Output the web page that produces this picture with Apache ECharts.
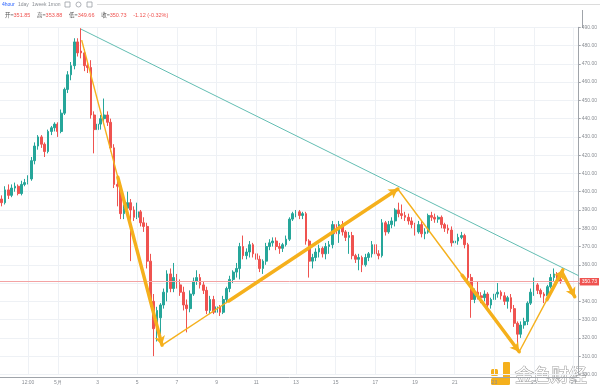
<!DOCTYPE html>
<html>
<head>
<meta charset="utf-8">
<script src="https://cdn.jsdelivr.net/npm/echarts@6/dist/echarts.min.js"></script>
<style>html,body{margin:0;padding:0;background:#fff}#c{width:600px;height:388px}</style>
</head>
<body>
<div id="c"></div>
<script>
// ---- data ----
// 4-hour candles: [open, close, low, high]
const candles = [
[396,394,392,398],[394,401,393,403],[401,398,396,404],[398,402,397,404],[402,403,400,405],
[403,399,398,404],[399,404,398,406],[404,405,403,407],[405,407,404,409],[407,417,406,419],
[417,425,415,427],[425,430,423,431],[430,426,424,431],[426,422,419,427],[422,433,421,434],
[433,435,431,436],[435,437,433,438],[437,433,430,438],[433,443,432,445],[443,456,442,457],
[456,464,454,466],[464,469,461,471],[469,482,467,484],[482,476,474,484],[477,476,473,489.5],
[476,469,466,478],[469,468,465,471],[468,442,440,472],[442,434,421,444],[434,437,425,438],
[437,440,434,442],[440,442,437,451],[442,438,436,444],[438,424,422,440],[424,404,402,426],
[404,403,392,406],[403,388,385,405],[388,391,385,393],[391,394,388,400],[394,390,362,396],
[390,386,384,392],[386,389,385,394],[389,383,381,390],[383,381,378,386],[381,362,358,383],
[362,340,337,366],[340,325,310,344],[325,335,318,337],[331,338,322,339],[338,345,336,347],
[345,355,340,357],[355,347,345,358],[347,353,345,361],[353,349,347,355],[349,345,343,352],
[345,338,335,348],[338,336,323,341],[336,344,334,346],[344,351,343,353],[351,353,349,357],
[353,349,347,355],[349,346,344,351],[346,335,333,348],[335,341,333,343],[341,334,333,343],
[334,337,326,339],[337,334,332,338],[334,341,333,343],[341,347,339,348],[347,352,345,354],
[352,356,350,357],[356,358,353,361],[358,370,352,372],[370,365,363,376],[365,367,363,369],
[367,371,364,373],[371,366,364,372],[366,363,361,368],[363,358,356,365],[358,362,355,363],
[362,370,360,372],[370,372,368,374],[372,373,370,375],[373,370,368,375],[370,369,366,372],
[369,371,367,372],[371,374,370,376],[374,385,373,386],[385,388,384,389],[388,389,386,390],
[389,387,385,390],[387,388,385,389],[388,373,371,389],[373,362,353,374],[362,364,358,366],
[364,367,362,369],[367,369,364,371],[369,366,364,370],[366,370,363,372],[370,371,366,373],
[371,382,369,384],[382,377,375,384],[377,382,372,384],[382,378,376,384],[378,375,373,379],
[375,376,366,378],[376,365,363,378],[365,363,361,366],[363,364,357,366],[364,360,356,365],
[360,364,359,366],[364,366,362,367],[366,371,364,373],[371,366,364,372],[366,365,363,368],
[365,383,364,385],[383,378,376,384],[378,382,377,384],[382,384,380,386],[384,390,381,391],
[390,388,386,394],[388,387,385,393],[387,386,384,389],[386,384,382,388],[384,382,380,386],
[382,378,376,383],[378,382,377,384],[382,377,375,384],[377,378,374,380],[378,387,377,388],
[387,386,384,389],[386,385,383,388],[385,386,383,387],[386,382,380,387],[382,380,378,383],
[380,379,377,382],[379,372,370,381],[372,373,364,380],[373,375,371,377],[375,376,374,378],
[376,371,369,377],[371,353,351,372],[353,341,331,355],[341,345,339,347],[345,343,341,351],
[343,342,339,345],[342,344,340,346],[344,338,336,345],[338,341,336,342],[341,344,339,345],
[344,345,342,350],[345,343,341,346],[343,340,338,345],[340,342,336,343],[342,336,334,344],
[336,328,326,338],[328,322,317,329],[322,327,320,329],[327,329,325,331],[329,339,327,340],
[339,345,338,347],[345,349,343,353],[349,346,344,350],[346,344,342,347],[344,343,339,345],
[343,348,342,349],[348,353,347,355],[353,355,351,358],[355,351.85,350,356],[351.85,350.73,349.66,353.88]
];
const lastOHLC = {open:'351.85', high:'353.88', low:'349.66', close:'350.73', chg:'-1.12', pct:'-0.32%'};
const lastPrice = 350.73;

// tick labels of the time axis
const tickCats  = ['4/29 12:00','5/1 00:00','5/3 00:00','5/5 00:00','5/7 00:00','5/9 00:00','5/11 00:00','5/13 00:00','5/15 00:00','5/17 00:00','5/19 00:00','5/21 00:00','5/23 00:00','5/25 00:00','5/27 00:00'];
const tickTexts = ['12:00','5月','3','5','7','9','11','13','15','17','19','21','23','25','27'];

// drawings (in [candle index, price])
const trendLine = [[24, 489], [174.5, 354]];
const arrowLegs = [
  [[24.2, 483], [48.5, 316]],
  [[48.5, 316], [119.8, 401.5]],
  [[119.8, 401.5], [156.5, 312.4]],
  [[156.5, 312.4], [169.7, 357.2]],
  [[169.4, 356], [173.3, 342.5]]
];
const thinFraction = [0.45, 0.283, 0.53, 0.636, 0];

// ---- categories (4h slots) ----
const totalSlots = 175;
const categories = [];
const t0 = Date.UTC(2018, 3, 28, 4);
for (let i = 0; i < totalSlots; i++) {
  const d = new Date(t0 + i * 4 * 3600e3);
  categories.push((d.getUTCMonth() + 1) + '/' + d.getUTCDate() + ' ' + String(d.getUTCHours()).padStart(2, '0') + ':00');
}
const tickMap = {};
tickCats.forEach((c, i) => tickMap[c] = tickTexts[i]);
const isTick = (idx, val) => tickMap[val] !== undefined;
const tickIdx = tickCats.map(c => categories.indexOf(c));

const GREEN = '#26a69a', RED = '#ef5350', GOLD = '#f5b01c';

const thinSegs = [], thickSegs = [];
arrowLegs.forEach((leg, i) => {
  const [a, b] = leg, f = thinFraction[i];
  const m = [a[0] + (b[0] - a[0]) * f, a[1] + (b[1] - a[1]) * f];
  if (f > 0) thinSegs.push([{coord: a}, {coord: m}]);
  thickSegs.push([{coord: m}, {coord: b}]);
});

const chart = echarts.init(document.getElementById('c'), null, {renderer: 'canvas'});
const font = '"Liberation Sans", Arial, sans-serif';
const dummy = [[trendLine[0][0], trendLine[0][1]]];
chart.setOption({
  animation: false,
  textStyle: {fontFamily: font},
  grid: {left: 0, right: 18, top: 27.3, bottom: 13.6},
  xAxis: [{
    type: 'category', data: categories, boundaryGap: true, offset: 2.6,
    axisLine: {onZero: false, lineStyle: {color: '#a0a4aa'}},
    axisTick: {interval: isTick, alignWithLabel: true, length: 2, lineStyle: {color: '#a0a4aa'}},
    axisLabel: {interval: isTick, formatter: v => tickMap[v] || '', fontSize: 5, color: '#8a8e94', margin: 3},
    splitLine: {show: false}
  }, {
    type: 'value', min: -0.5, max: totalSlots - 0.5, show: false, axisLine: {onZero: false}
  }],
  yAxis: {
    type: 'value', position: 'right', min: 300, max: 490, interval: 10, scale: true,
    axisLine: {show: true, onZero: false, lineStyle: {color: '#a0a4aa'}},
    axisTick: {show: true, length: 2, lineStyle: {color: '#a0a4aa'}},
    axisLabel: {fontSize: 5, color: '#8a8e94', margin: 3, formatter: v => v.toFixed(2)},
    splitLine: {lineStyle: {color: '#eef1f5'}}
  },
  series: [{
    // vertical grid lines at the time ticks
    type: 'line', xAxisIndex: 1, data: dummy, showSymbol: false, symbolSize: 0, lineStyle: {opacity: 0}, z: 0,
    markLine: {
      silent: true, animation: false, symbol: 'none', label: {show: false},
      lineStyle: {color: '#eef1f5', width: 1, type: 'solid'},
      data: tickIdx.map(k => ({xAxis: k}))
    }
  }, {
    type: 'candlestick', data: candles, barWidth: '68%',
    itemStyle: {color: GREEN, color0: RED, borderColor: GREEN, borderColor0: RED, borderWidth: 1},
    markLine: {
      silent: true, symbol: 'none', animation: false,
      lineStyle: {color: '#f3a3a3', type: 'solid', width: 1},
      label: {show: true, position: 'end', formatter: lastPrice.toFixed(2), backgroundColor: RED, color: '#fff', fontSize: 5, padding: [1.5, 2, 1, 2], distance: 1},
      data: [{yAxis: lastPrice}]
    }
  }, {
    type: 'line', xAxisIndex: 1, data: dummy, showSymbol: false, symbolSize: 0,
    lineStyle: {opacity: 0},
    markLine: {
      silent: true, animation: false, symbol: 'none', label: {show: false},
      lineStyle: {color: '#62bdb2', width: 1, type: 'solid'},
      data: [[{coord: trendLine[0]}, {coord: trendLine[1]}]]
    }
  }, {
    type: 'line', xAxisIndex: 1, data: dummy, showSymbol: false, symbolSize: 0,
    lineStyle: {opacity: 0},
    markLine: {
      silent: true, animation: false, symbol: 'none', label: {show: false},
      lineStyle: {color: GOLD, width: 1.4, type: 'solid'},
      data: thinSegs
    }
  }, {
    type: 'line', xAxisIndex: 1, data: dummy, showSymbol: false, symbolSize: 0,
    lineStyle: {opacity: 0},
    markLine: {
      silent: true, animation: false, symbol: ['none', 'arrow'], symbolSize: [8, 9], label: {show: false},
      lineStyle: {color: GOLD, width: 3.5, type: 'solid', cap: 'round'},
      itemStyle: {color: GOLD},
      data: thickSegs
    }
  }],
  graphic: [
    {type: 'line', shape: {x1: 97, y1: 4.5, x2: 600, y2: 4.5}, style: {stroke: '#dcdcdc', lineWidth: 1}},
    {type: 'line', shape: {x1: 582.5, y1: 10, x2: 582.5, y2: 28}, style: {stroke: '#a0a4aa', lineWidth: 1}},
    {type: 'text', x: 2, y: 4.5, style: {text: '4hour', fill: '#2962ff', fontSize: 5, fontFamily: font, verticalAlign: 'middle'}},
    {type: 'text', x: 18, y: 4.5, style: {text: '1day', fill: '#8a8e94', fontSize: 5, fontFamily: font, verticalAlign: 'middle'}},
    {type: 'text', x: 32, y: 4.5, style: {text: '1week', fill: '#8a8e94', fontSize: 5, fontFamily: font, verticalAlign: 'middle'}},
    {type: 'text', x: 48, y: 4.5, style: {text: '1mon', fill: '#8a8e94', fontSize: 5, fontFamily: font, verticalAlign: 'middle'}},
    {type: 'rect', shape: {x: 65, y: 2, width: 5, height: 5}, style: {fill: 'none', stroke: '#9a9ea4', lineWidth: 0.8}},
    {type: 'circle', shape: {cx: 78.5, cy: 4.5, r: 2.5}, style: {fill: 'none', stroke: '#9a9ea4', lineWidth: 0.8}},
    {type: 'rect', shape: {x: 87, y: 2, width: 5, height: 5}, style: {fill: 'none', stroke: '#9a9ea4', lineWidth: 0.8}},
    {type: 'text', x: 5, y: 15, style: {
      text: '{a|开=}{b|' + lastOHLC.open + '}  {a|高=}{b|' + lastOHLC.high + '}  {a|低=}{b|' + lastOHLC.low + '}  {a|收=}{b|' + lastOHLC.close + '}  {b|' + lastOHLC.chg + ' (' + lastOHLC.pct + ')}',
      verticalAlign: 'middle', fontFamily: font,
      rich: {a: {fontSize: 5.5, fill: '#555', fontFamily: '"Noto Sans CJK SC", sans-serif'}, b: {fontSize: 5.5, fill: RED, fontFamily: font}}
    }},
    // watermark logo
    {type: 'rect', shape: {x: 491, y: 369, width: 7, height: 7, r: 1.5}, style: {fill: GOLD}},
    {type: 'rect', shape: {x: 503, y: 362, width: 7, height: 22, r: 1}, style: {fill: GOLD}},
    {type: 'rect', shape: {x: 491, y: 378, width: 19, height: 7, r: 1.5}, style: {fill: GOLD}},
    {type: 'text', x: 515, y: 375, style: {text: '金色财经', fontSize: 18, fontFamily: '"Noto Sans CJK SC", sans-serif', fill: '#ffffff', stroke: '#9c9c9c', lineWidth: 1, verticalAlign: 'middle'}}
  ]
});
</script>
</body>
</html>
